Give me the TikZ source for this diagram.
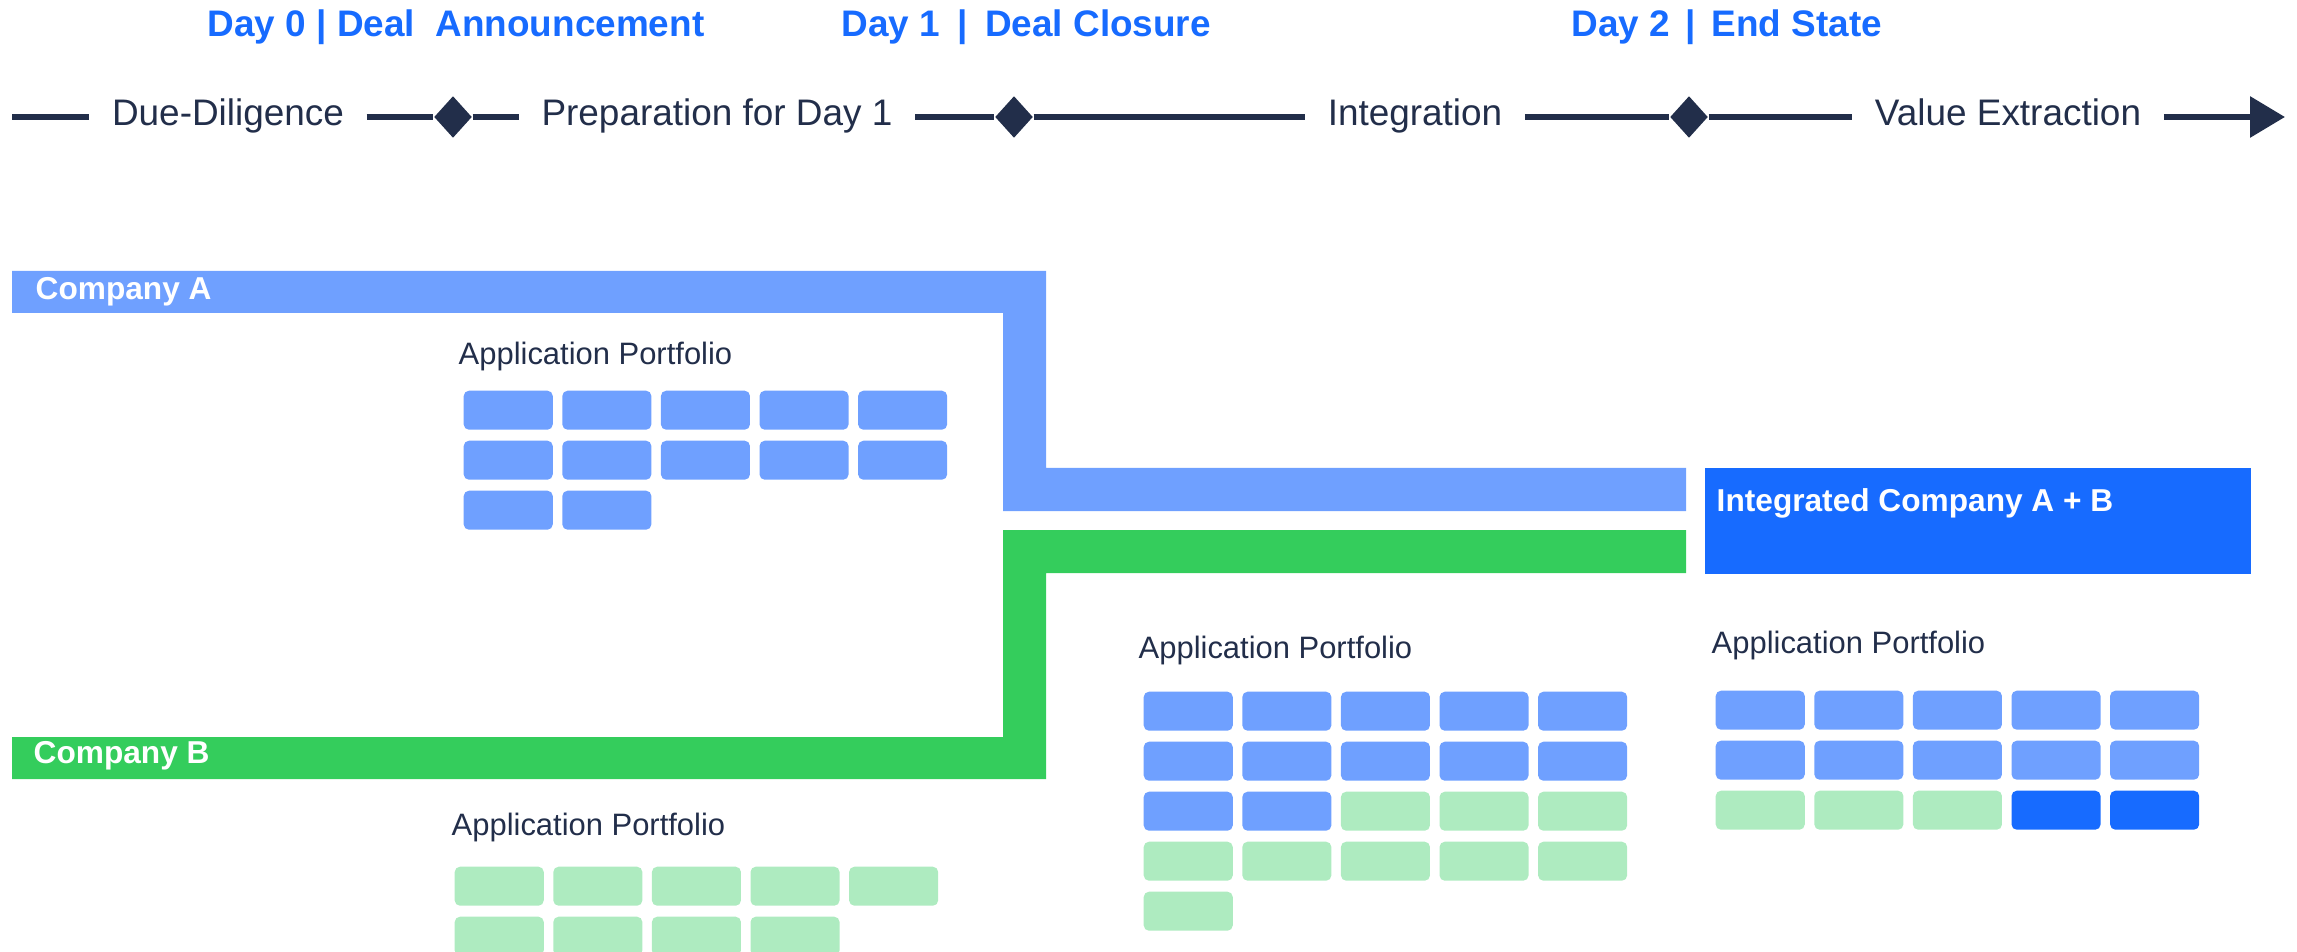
\documentclass[tikz,border=0pt]{standalone}
\usepackage{fontspec}
\setmainfont{Liberation Sans}
\usetikzlibrary{shapes.geometric,arrows.meta}

\definecolor{navy}{HTML}{222E4A}
\definecolor{brand}{HTML}{176BFF}
\definecolor{bandA}{HTML}{6FA0FF}
\definecolor{bandB}{HTML}{34CD5C}
\definecolor{tileB}{HTML}{AEEBC0}

\begin{document}
\begin{tikzpicture}[x=0.01cm,y=-0.01cm,
  tline/.style={navy,line width=1.8pt},
  phase/.style={text=navy,font=\fontsize{10.5}{12}\selectfont,
    inner xsep=0.22cm,inner ysep=0pt,text height=8pt,text depth=3.4pt},
  milestone/.style={diamond,fill=navy,inner sep=0pt,
    minimum width=0.38cm,minimum height=0.42cm},
  dayhead/.style={text=brand,font=\fontsize{10.5}{13}\selectfont\bfseries,
    anchor=base west,inner sep=0pt},
  company/.style={text=white,font=\fontsize{9}{11}\selectfont\bfseries,
    anchor=west,inner sep=0pt},
  portfolio/.style={text=navy,font=\fontsize{8.8}{10.5}\selectfont,
    anchor=west,inner sep=0pt},
  app/.style={rounded corners=1.5pt,minimum width=0.89cm,
    minimum height=0.39cm,inner sep=0pt,anchor=north west},
  appA/.style={app,fill=bandA},
  appB/.style={app,fill=tileB},
  appC/.style={app,fill=brand}]

  \useasboundingbox (0,0) rectangle (2297,952);

  % milestones on top
  \node[dayhead] (day0) at (207,37) {Day 0 | Deal\ \ Announcement};
  \node[dayhead] (day1) at (841,37) {Day 1\hspace{2pt} | \hspace{2pt}Deal Closure};
  \node[dayhead] (day2) at (1571,37) {Day 2\hspace{1.5pt} | \hspace{1.5pt}End State};

  % time line
  \coordinate (tl0) at (12,117);
  \coordinate (tl1) at (2285,117);
  \node[phase] (dd) at (228,117) {Due-Diligence};
  \node[milestone] (dm0) at (453,117) {};
  \node[phase] (prep) at (717,117) {Preparation for Day 1};
  \node[milestone] (dm1) at (1014,117) {};
  \node[phase] (integ) at (1415,117) {Integration};
  \node[milestone] (dm2) at (1689,117) {};
  \node[phase] (value) at (2008,117) {Value Extraction};
  \draw[tline] (tl0) -- (dd) -- (dm0) -- (prep) -- (dm1) -- (integ) -- (dm2) -- (value);
  \draw[tline,-{Triangle[length=0.35cm,width=0.4cm]}] (value) -- (tl1);

  % company bands
  \fill[bandA] (12,271) -- (1046,271) -- (1046,468) -- (1686,468) -- (1686,511)
    -- (1003,511) -- (1003,313) -- (12,313) -- cycle;
  \fill[bandB] (12,779) -- (1046,779) -- (1046,573) -- (1686,573) -- (1686,530)
    -- (1003,530) -- (1003,737) -- (12,737) -- cycle;
  \node[fill=brand,anchor=north west,inner sep=0pt,minimum width=5.46cm,
    minimum height=1.06cm] (merged) at (1704,467) {};

  \node[company] (compA) at (35,292) {Company A};
  \node[company] (compB) at (33,756) {Company B};
  \node[company] (compAB) at (1716,503) {Integrated Company A + B};

  % portfolios
  \node[portfolio] (portA) at (458,357) {Application Portfolio};
  \node[portfolio] (portB) at (451,827) {Application Portfolio};
  \node[portfolio] (portM) at (1138,650) {Application Portfolio};
  \node[portfolio] (portR) at (1711,645) {Application Portfolio};

  \foreach \i in {0,...,11}{
    \pgfmathtruncatemacro\r{div(\i,5)}
    \pgfmathtruncatemacro\c{mod(\i,5)}
    \node[appA] (a\i) at (463+98.6*\c,390+50*\r) {};
  }
  \foreach \i in {0,...,8}{
    \pgfmathtruncatemacro\r{div(\i,5)}
    \pgfmathtruncatemacro\c{mod(\i,5)}
    \node[appB] (b\i) at (454+98.6*\c,866+50*\r) {};
  }
  \foreach \i in {0,...,20}{
    \pgfmathtruncatemacro\r{div(\i,5)}
    \pgfmathtruncatemacro\c{mod(\i,5)}
    \ifnum\i<12 \def\s{appA}\else\def\s{appB}\fi
    \node[\s] (m\i) at (1143+98.6*\c,691+50*\r) {};
  }
  \foreach \i in {0,...,14}{
    \pgfmathtruncatemacro\r{div(\i,5)}
    \pgfmathtruncatemacro\c{mod(\i,5)}
    \ifnum\i<10 \def\s{appA}\else\ifnum\i<13 \def\s{appB}\else\def\s{appC}\fi\fi
    \node[\s] (r\i) at (1715+98.6*\c,690+50*\r) {};
  }
\end{tikzpicture}
\end{document}
